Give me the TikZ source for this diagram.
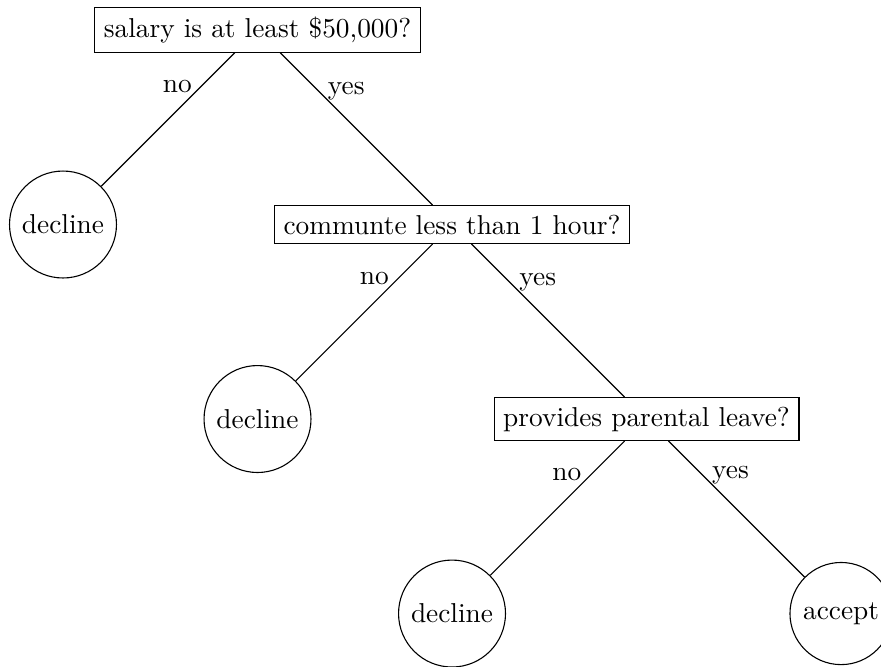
\documentclass[tikz,border=0pt]{standalone}
\begin{document}
\begin{tikzpicture}[
  question/.style={draw, rectangle},
  leaf/.style={draw, circle},
  lblno/.style={left, near start},
  lblyes/.style={right, near start}
]
\clip (-94.17pt,-232.6pt) rectangle (228.0pt,10.97pt);
\useasboundingbox (-94.17pt,-232.6pt) rectangle (228.0pt,10.97pt);
\node[question] (q1) at (0,0) {salary is at least \$50,000?};
\node[leaf] (d1) at (-2.5,-2.5) {decline};
\node[question] (q2) at (2.5,-2.5) {communte less than 1 hour?};
\node[leaf] (d2) at (0,-5) {decline};
\node[question] (q3) at (5,-5) {provides parental leave?};
\node[leaf] (d3) at (2.5,-7.5) {decline};
\node[leaf] (acc) at (7.5,-7.5) {accept};
\draw (q1) -- node[lblno] {no} (d1);
\draw (q1) -- node[lblyes] {yes} (q2);
\draw (q2) -- node[lblno] {no} (d2);
\draw (q2) -- node[lblyes] {yes} (q3);
\draw (q3) -- node[lblno] {no} (d3);
\draw (q3) -- node[lblyes] {yes} (acc);
\end{tikzpicture}
\end{document}
